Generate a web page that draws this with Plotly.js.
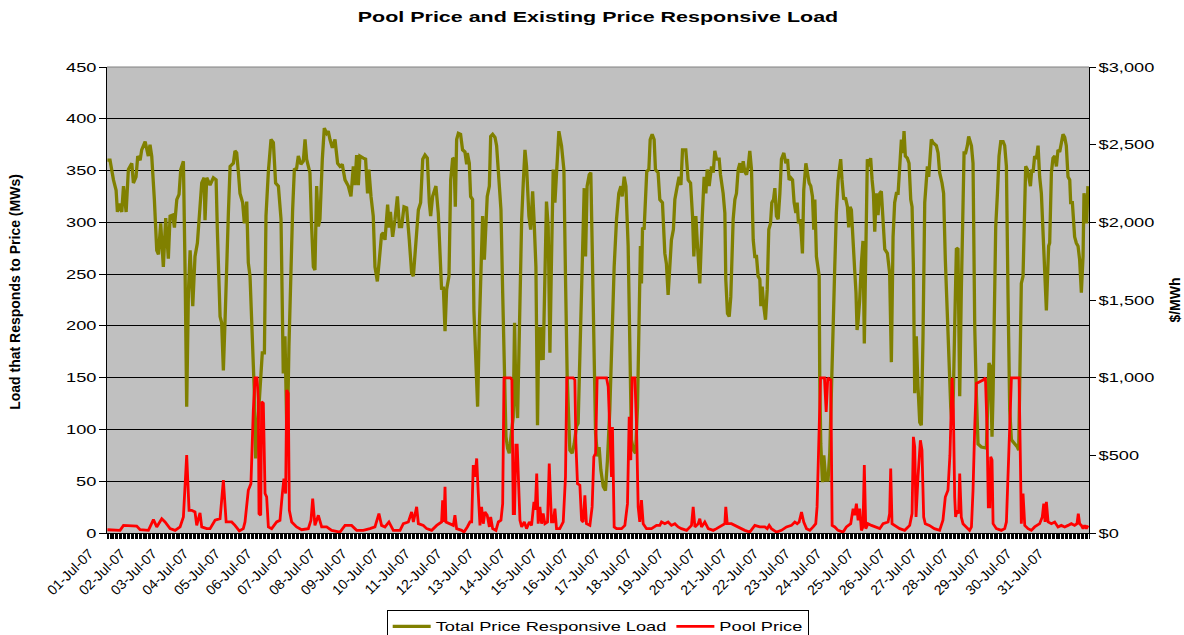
<!DOCTYPE html>
<html><head><meta charset="utf-8">
<script src="https://cdn.plot.ly/plotly-3.0.1.min.js"></script>
<style>html,body{margin:0;padding:0;background:#fff}#chart{width:1184px;height:635px}</style>
</head><body><div id="chart"></div>
<script>
// Category labels (one per day of July 2007)
const dayLabels = ["01-Jul-07","02-Jul-07","03-Jul-07","04-Jul-07","05-Jul-07","06-Jul-07","07-Jul-07","08-Jul-07","09-Jul-07","10-Jul-07","11-Jul-07","12-Jul-07","13-Jul-07","14-Jul-07","15-Jul-07","16-Jul-07","17-Jul-07","18-Jul-07","19-Jul-07","20-Jul-07","21-Jul-07","22-Jul-07","23-Jul-07","24-Jul-07","25-Jul-07","26-Jul-07","27-Jul-07","28-Jul-07","29-Jul-07","30-Jul-07","31-Jul-07"];

// Total Price Responsive Load (MW): [hour of month, MW]
const loadSeries = [[0,360],[2,360],[4.6,341],[6.6,331],[7.6,310],[9.1,318],[10.9,310],[12.2,335],[14.2,310],[15.9,351],[18.5,357],[19.7,338],[21.7,344],[23,364],[24.8,360],[26,370],[28.6,378],[31,364],[32.3,375],[33.6,364],[35.6,322],[37.4,273],[38.7,269],[40.4,299],[42.4,257],[44.2,304],[46.2,265],[47.5,306],[49.5,307],[50.8,295],[52.6,322],[54.3,327],[55.6,351],[57.6,359],[58.9,251],[60.1,122],[61.4,232],[62.7,273],[64.7,219],[66.4,267],[68.2,280],[70.2,319],[71.5,338],[73.3,343],[74,302],[75.3,343],[77.8,336],[80.3,343],[82.4,341],[83.4,290],[85.4,209],[86.6,203],[87.9,157],[89.2,206],[90.4,264],[91.7,309],[93,354],[95.5,357],[96.7,369],[98,367],[99.3,348],[100.5,328],[102.5,319],[103.8,299],[105.6,320],[106.8,261],[108.1,248],[109.4,203],[109.9,178],[111.4,135],[112.4,72],[113.9,103],[115.7,135],[117.4,174],[119,174],[120.2,306],[122,349],[124,380],[125.8,377],[127.5,338],[129.6,335],[131.6,303],[133.3,154],[134.6,190],[135.9,103],[136.6,109],[137.6,180],[139.1,264],[140.4,312],[141.7,351],[143.4,352],[144.7,364],[146.7,356],[148.5,359],[149.8,380],[151,361],[153.5,348],[154.8,296],[156.1,257],[157.3,254],[158.6,335],[159.9,296],[161.1,303],[162.9,361],[164.4,391],[166.2,386],[167.4,388],[168.7,380],[170.5,372],[172.5,380],[174.5,357],[176.3,354],[178,356],[180.1,341],[182.6,335],[184.6,325],[186.4,354],[187.6,336],[188.9,365],[190.2,336],[191.4,364],[194,362],[195.7,361],[197.2,328],[198.2,351],[199.8,325],[201.5,306],[202.8,257],[204.6,243],[206.1,264],[207.8,288],[209.1,290],[210.4,283],[212.4,317],[213.6,295],[214.5,310],[216.2,286],[218,303],[219.8,325],[221.3,296],[223,296],[224.8,315],[226.8,314],[228.8,283],[230.6,251],[231.9,248],[233.9,283],[235.7,312],[237.4,319],[239,361],[240.7,365],[242.5,362],[244,319],[245,306],[246.5,325],[249,335],[250.8,309],[252.1,277],[253.3,235],[254.6,238],[255.9,195],[257.1,235],[258.9,248],[260.2,341],[261.7,362],[262.7,361],[263.7,315],[264.7,380],[266,386],[267.7,385],[269.2,370],[271,368],[272.3,356],[272.8,367],[274.3,357],[275.3,325],[276.8,322],[277.8,215],[279.4,148],[280.6,122],[281.9,199],[282.9,248],[284.4,306],[285.7,264],[286.9,290],[287.9,325],[289.5,335],[290.5,383],[292,385],[293.8,382],[295,374],[297,335],[298.3,312],[299.6,232],[300.8,161],[302.1,93],[303.3,82],[304.6,77],[306.4,99],[307.6,112],[308.6,203],[309.6,135],[310.9,111],[312.2,206],[314,303],[315.2,338],[316.5,370],[317.7,354],[319.5,306],[320.8,293],[322.3,330],[323.5,299],[324.8,257],[326,104],[327,199],[328.5,167],[329.6,199],[330.3,167],[331.6,257],[332.8,320],[334.1,296],[335.4,174],[336.6,264],[337.9,351],[339.2,319],[340.4,348],[342.2,388],[344.2,374],[346,351],[347.2,248],[348.5,151],[350.5,80],[352.3,77],[353.8,86],[355.6,103],[356.8,106],[358.1,167],[359.9,254],[361.4,333],[362.4,267],[363.6,335],[365.2,346],[366.4,348],[367.4,280],[368.7,167],[370,96],[371.5,74],[372.7,83],[374,61],[375.8,45],[377.5,41],[379,70],[380.8,119],[382.6,193],[384.1,257],[385.9,303],[387.6,328],[389.2,335],[390.2,325],[391.7,344],[393,335],[394.7,277],[396,190],[397.2,90],[398.7,80],[400.3,77],[401.8,122],[403,199],[404,277],[404.8,241],[405.6,295],[406.8,293],[407.8,328],[408.8,349],[410.4,351],[411.4,380],[412.9,385],[414.4,380],[415.4,351],[417.4,348],[418.7,322],[420.7,319],[422.5,270],[423.7,260],[425,230],[426.3,264],[427.5,283],[429,293],[430.1,322],[432.1,336],[433.3,344],[434.7,336],[435.9,370],[438.4,370],[440.2,341],[442,338],[443.5,306],[444.5,267],[446,306],[447,283],[449,241],[450.8,303],[452.3,344],[453.6,328],[454.6,351],[456.1,335],[457.9,354],[459.2,348],[460.4,369],[461.7,361],[463.7,361],[464.7,346],[466.7,328],[468,309],[468.7,245],[470,212],[471.3,209],[472.5,228],[474.3,303],[475.6,322],[476.8,328],[478.1,351],[479.4,357],[480.6,348],[481.9,359],[483.1,349],[484.4,346],[485.7,354],[486.9,369],[488.2,351],[489.5,283],[490.7,267],[492,267],[493.2,248],[494.5,245],[495.3,219],[496.3,238],[497.5,219],[498.8,206],[500.1,235],[501.3,293],[502.6,299],[503.6,319],[504.9,322],[505.9,333],[507.1,306],[508.4,303],[509.7,328],[510.9,361],[512.7,367],[514.2,357],[515.5,361],[516.7,341],[518,343],[519.3,341],[520.5,319],[521.8,309],[522.8,319],[523.8,299],[524.8,303],[525.6,296],[526.8,270],[527.8,331],[529.4,357],[530.6,348],[531.9,338],[533.1,335],[534.4,325],[535.4,293],[536.2,322],[537.4,267],[538.7,257],[539.5,248],[539.9,151],[540.7,86],[542,49],[543,75],[544.5,51],[546.2,51],[547.5,77],[548.8,148],[550,199],[551.3,257],[552.5,309],[553.8,340],[555.1,354],[555.8,361],[556.8,341],[558.1,322],[559.4,324],[560.9,315],[561.9,295],[562.9,315],[563.9,312],[565.2,274],[566.4,254],[567.4,232],[568.2,196],[568.9,203],[570.2,225],[571.5,261],[572.7,282],[573.7,183],[574.8,274],[576,361],[577,354],[578.5,362],[579.6,341],[580.6,328],[581.6,291],[582.8,328],[584.1,307],[585.4,328],[586.6,330],[587.9,306],[589.2,274],[591.2,270],[592.9,251],[594.2,165],[595.5,286],[596.7,319],[598,328],[599.3,328],[600.5,354],[601.8,380],[603,367],[603.8,388],[604.8,364],[606.3,362],[607.6,357],[608.9,322],[609.9,315],[610.9,257],[611.9,135],[613.1,190],[614.4,141],[615.7,107],[616.9,104],[618.2,190],[619.5,319],[620.7,344],[621.5,354],[622.5,344],[623.5,361],[624.5,380],[625.8,377],[627,376],[628.3,374],[629.6,367],[630.8,348],[632.6,338],[633.8,328],[635.1,264],[636.6,206],[637.9,151],[639.2,122],[640.2,106],[641.2,135],[642.2,199],[643.5,275],[644.7,274],[646,132],[647.2,232],[648.2,312],[649.3,367],[650.5,367],[651.8,374],[652.8,383],[654.9,374],[656.1,357],[657.4,199],[658.6,135],[659.9,86],[662.4,83],[664.9,82],[666.2,82],[667.5,135],[668.2,164],[669.3,161],[670.5,93],[671.3,135],[672,199],[673.3,296],[674.6,328],[675.8,364],[677.1,378],[678.9,378],[680.1,374],[681.4,354],[682.6,232],[683.9,119],[685.2,90],[687.7,86],[689.7,83],[690.7,80],[692,167],[692.7,241],[694,248],[695.3,306],[696,354],[697.3,351],[698.5,344],[699.6,335],[700.6,351],[701.6,348],[702.8,364],[704.1,361],[705.4,374],[706.6,344],[707.9,328],[709.2,283],[710.4,257],[711.7,215],[712.4,241],[713.4,277],[714.2,280],[715.5,348],[716.7,362],[718,364],[719.3,354],[720.5,370],[721.8,368],[723,378],[724.3,385],[725.6,382],[726.8,374],[728.1,344],[729.4,341],[730.1,319],[731.4,319],[733.1,286],[734.4,280],[735.7,277],[736.9,264],[738.2,232],[739.5,267],[740.2,328],[741.5,319],[742.2,299],[743.2,335]];

// Pool Price ($/MWh): [hour of month, $]
const priceSeries = [[0,21],[9.6,17],[12.2,49],[22.2,45],[24.8,21],[31.1,17],[34.9,86],[37.4,39],[41.2,92],[43.7,71],[47.5,28],[51.3,17],[55.1,39],[57.6,103],[60.1,501],[61.9,146],[63.9,146],[66.4,135],[67.7,49],[70.2,129],[71.5,39],[75.3,28],[77.8,28],[81.6,82],[85.4,92],[87.9,340],[90,71],[94.2,71],[96.7,49],[100,13],[103,28],[104.3,71],[106.8,275],[108.8,318],[110.6,791],[111.9,999],[113.4,999],[114.4,856],[114.9,125],[116.2,114],[116.9,845],[118.2,834],[119.5,254],[120.7,232],[122,39],[124.5,28],[128.3,71],[130.8,82],[132.6,254],[133.8,350],[135.1,254],[135.9,920],[137.1,899],[137.9,146],[139.7,71],[143.4,39],[147.2,21],[152.3,28],[154.3,82],[155.6,222],[157.3,49],[159.9,114],[162.4,39],[166.2,39],[170,17],[176.3,6],[180.1,49],[185.1,49],[188.9,17],[194,17],[199,28],[202.8,39],[205.8,125],[207.8,49],[210.4,39],[213.4,71],[216.7,17],[221.8,17],[224.3,60],[228.1,71],[230.6,135],[231.9,71],[234.4,168],[235.7,60],[239.5,49],[242,28],[245.8,17],[249.6,49],[253.3,71],[254.1,211],[255.1,71],[255.9,297],[256.6,71],[259.7,60],[262.2,49],[263.4,114],[264.7,28],[268.5,17],[270.3,6],[272.8,39],[274.8,71],[276.1,71],[277.3,437],[278.6,361],[279.9,480],[281.1,254],[282.4,49],[283.6,168],[284.9,60],[286.2,135],[287.9,114],[289.5,39],[290.5,103],[292,28],[294.5,17],[296.3,71],[298.3,82],[299.6,189],[300.6,999],[303.1,999],[305.6,999],[306.6,985],[307.6,125],[308.6,125],[309.6,565],[310.6,565],[311.6,361],[312.7,82],[314,39],[316,71],[317.7,28],[319.8,71],[321.5,49],[323.3,200],[324.3,150],[325.4,383],[326.5,60],[327.8,168],[329.1,60],[330.3,125],[331.6,60],[333.6,71],[334.9,447],[336.6,71],[337.9,71],[339.2,157],[340.4,28],[342.9,28],[345.5,71],[347.2,361],[348.2,999],[350.5,999],[353,999],[354.3,985],[355.1,576],[356.3,318],[358.1,308],[359.4,82],[360.6,71],[361.9,243],[363.1,60],[365.7,49],[367.4,168],[368.7,490],[370,512],[371.2,999],[374.5,999],[378.3,999],[379.6,941],[380.8,683],[382.1,361],[382.8,683],[384.1,39],[385.9,28],[389.7,28],[392.2,49],[394.2,189],[395.5,748],[396.7,469],[397.7,999],[399.8,999],[401,705],[402.3,168],[403.5,71],[404.8,211],[406.1,60],[408.6,28],[412.4,28],[416.2,49],[418.7,49],[420,71],[422.5,60],[425,71],[427.5,49],[430.1,60],[432.6,39],[435.1,28],[439,17],[442.7,49],[444,168],[445.3,39],[447.8,60],[449,92],[450.3,39],[452.8,71],[455.4,28],[459.2,17],[461.7,28],[465.5,49],[468,60],[468.7,168],[469.8,60],[473,60],[475.6,49],[479.4,28],[483.1,17],[486.9,6],[490.7,49],[494.5,39],[498.3,39],[500.1,28],[501.6,49],[503.3,28],[507.1,6],[510.9,17],[514.7,39],[518.5,49],[521,71],[522.8,60],[524.3,71],[526.1,135],[527.8,71],[529.9,28],[532.4,17],[534.9,39],[536.9,60],[537.9,168],[538.7,469],[539.5,813],[540.5,999],[543.5,999],[544.8,780],[546,999],[548.3,985],[549.3,49],[551.3,39],[553.8,17],[557.6,6],[560.1,39],[563.4,60],[565.2,157],[566.4,114],[567.7,189],[569,82],[570.2,157],[571.5,17],[572.7,39],[573.7,437],[574.8,28],[576.5,60],[579.1,49],[581.6,39],[585.4,28],[587.9,60],[591.7,71],[592.9,125],[593.7,415],[594.7,60],[596.7,49],[600.5,28],[604.3,17],[608.1,49],[609.9,125],[610.9,619],[611.9,555],[612.9,103],[614.4,361],[616.2,597],[617.4,533],[618.7,103],[619.9,60],[623,49],[626.8,28],[630.8,17],[633.3,82],[635.1,232],[637.1,275],[638.6,501],[640.2,999],[641.2,791],[642.2,232],[642.9,103],[644,146],[645.2,125],[646,383],[647.2,103],[648.5,60],[651,39],[653.5,17],[654.9,39],[656.1,275],[657.4,683],[658.6,963],[661.2,974],[663.7,985],[665.5,999],[666.7,683],[667.7,168],[668.8,168],[669.5,490],[670.5,469],[671.3,60],[673.8,28],[677.6,17],[680.1,28],[681.4,71],[682.6,361],[683.9,683],[685.2,999],[689,999],[691,999],[692,469],[692.7,60],[694,254],[695.3,49],[697.8,28],[700.3,17],[702.8,39],[706.6,60],[708.6,103],[709.7,189],[710.7,71],[711.7,200],[713,71],[715.5,60],[718,71],[720.5,39],[723,49],[725.6,39],[728.1,49],[730.6,60],[733.1,49],[734.9,60],[735.9,125],[736.9,60],[738.2,49],[739.5,28],[740.7,49],[742,28],[743.2,49]];

const FONT = 'Arial, "Liberation Sans", sans-serif';

const traces = [
  {x: loadSeries.map(p => p[0]), y: loadSeries.map(p => p[1]), type: 'scatter', mode: 'lines',
   name: 'Total Price Responsive Load', line: {color: '#808000', width: 3.3}, yaxis: 'y'},
  {x: priceSeries.map(p => p[0]), y: priceSeries.map(p => p[1]), type: 'scatter', mode: 'lines',
   name: 'Pool Price', line: {color: '#FF0000', width: 2.8}, yaxis: 'y2'}
];

const layout = {
  width: 1184, height: 635,
  margin: {l: 107, r: 95, t: 67, b: 102, autoexpand: false},
  paper_bgcolor: '#ffffff', plot_bgcolor: '#C0C0C0',
  font: {family: FONT, size: 13, color: '#000'},
  title: {text: 'Pool Price and Existing Price Responsive Load',
          font: {family: FONT, size: 15, weight: 'bold', color: '#000'},
          x: 0.5, xref: 'paper', xanchor: 'center', y: 1 - 17/635, yref: 'container', yanchor: 'middle'},
  xaxis: {range: [-0.3, 744], tickmode: 'array', tickvals: dayLabels.map((d, i) => i * 24), ticktext: dayLabels,
          tickangle: -45, ticks: '', ticklabelshift: -18, ticklabelstandoff: 6, automargin: false,
          showgrid: false, zeroline: false,
          showline: true, linecolor: '#000', linewidth: 1, tickfont: {family: FONT, size: 14},
          minor: {tickmode: 'linear', tick0: 0, dtick: 1, ticks: 'outside', ticklen: 5, tickcolor: '#000', tickwidth: 1, showgrid: false}},
  yaxis: {range: [0, 450], tick0: 0, dtick: 50, ticks: 'outside', ticklen: 7, tickcolor: '#000', automargin: false,
          showline: true, linecolor: '#000', showgrid: true, gridcolor: '#000', gridwidth: 1, zeroline: false,
          tickfont: {family: FONT, size: 13},
          title: {text: 'Load that Responds to Price (MWs)', font: {family: FONT, size: 14, weight: 'bold'}, standoff: 50}},
  yaxis2: {overlaying: 'y', side: 'right', range: [0, 3000], tick0: 0, dtick: 500, tickprefix: '$', tickformat: ',d',
           ticks: 'outside', ticklen: 6, tickcolor: '#000', showline: true, linecolor: '#000', showgrid: false, zeroline: false,
           automargin: false, tickfont: {family: FONT, size: 13},
           title: {text: '$/MWh', font: {family: FONT, size: 14, weight: 'bold'}, standoff: 32}},
  legend: {orientation: 'h', x: 0.5, xanchor: 'center', y: -0.166, yanchor: 'top', bgcolor: '#fff',
           bordercolor: '#000', borderwidth: 1, font: {family: FONT, size: 13}, itemwidth: 38},
  shapes: [{type: 'line', xref: 'paper', yref: 'paper', x0: 0, x1: 1, y0: 1, y1: 1, line: {color: '#808080', width: 1}}],
  showlegend: true
};

function stretchText(sel, k) {
  document.querySelectorAll(sel).forEach(t => {
    const w = t.getComputedTextLength();
    if (w > 0) { t.setAttribute('textLength', (w * k).toFixed(2)); t.setAttribute('lengthAdjust', 'spacingAndGlyphs'); }
  });
}
function parseTr(el) {
  const m = /translate\(\s*([-\d.e]+)[ ,]+([-\d.e]+)\s*\)/.exec(el.getAttribute('transform') || '');
  return m ? [+m[1], +m[2]] : [0, 0];
}

Plotly.newPlot('chart', traces, layout, {displayModeBar: false, staticPlot: true}).then(() => {
  const k = 1.4;
  stretchText('#chart .gtitle', 1.43);
  stretchText('#chart g.ytick text', k);
  stretchText('#chart g.y2tick text', k);
  // the left axis title sits slightly above the axis centre in the reference
  const yt = document.querySelector('#chart .g-ytitle');
  if (yt) yt.setAttribute('transform', 'translate(0,-8)');
  // widen legend entries to match the stretched text
  let shift = 0;
  document.querySelectorAll('#chart .legend .traces').forEach(g => {
    const [x, y] = parseTr(g);
    g.setAttribute('transform', `translate(${x + shift},${y})`);
    const t = g.querySelector('.legendtext');
    const w = t.getComputedTextLength();
    t.setAttribute('textLength', (w * k).toFixed(2)); t.setAttribute('lengthAdjust', 'spacingAndGlyphs');
    shift += w * (k - 1);
  });
  const bg = document.querySelector('#chart .legend .bg');
  if (bg) bg.setAttribute('width', (+bg.getAttribute('width') + shift).toFixed(1));
  const lg = document.querySelector('#chart .legend');
  if (lg) { const [lx, ly] = parseTr(lg); lg.setAttribute('transform', `translate(${lx - shift / 2},${ly})`); }
  const sb = document.querySelector('#chart .legend .scrollbox');
  if (sb) sb.removeAttribute('clip-path');
});
</script>
</body></html>
